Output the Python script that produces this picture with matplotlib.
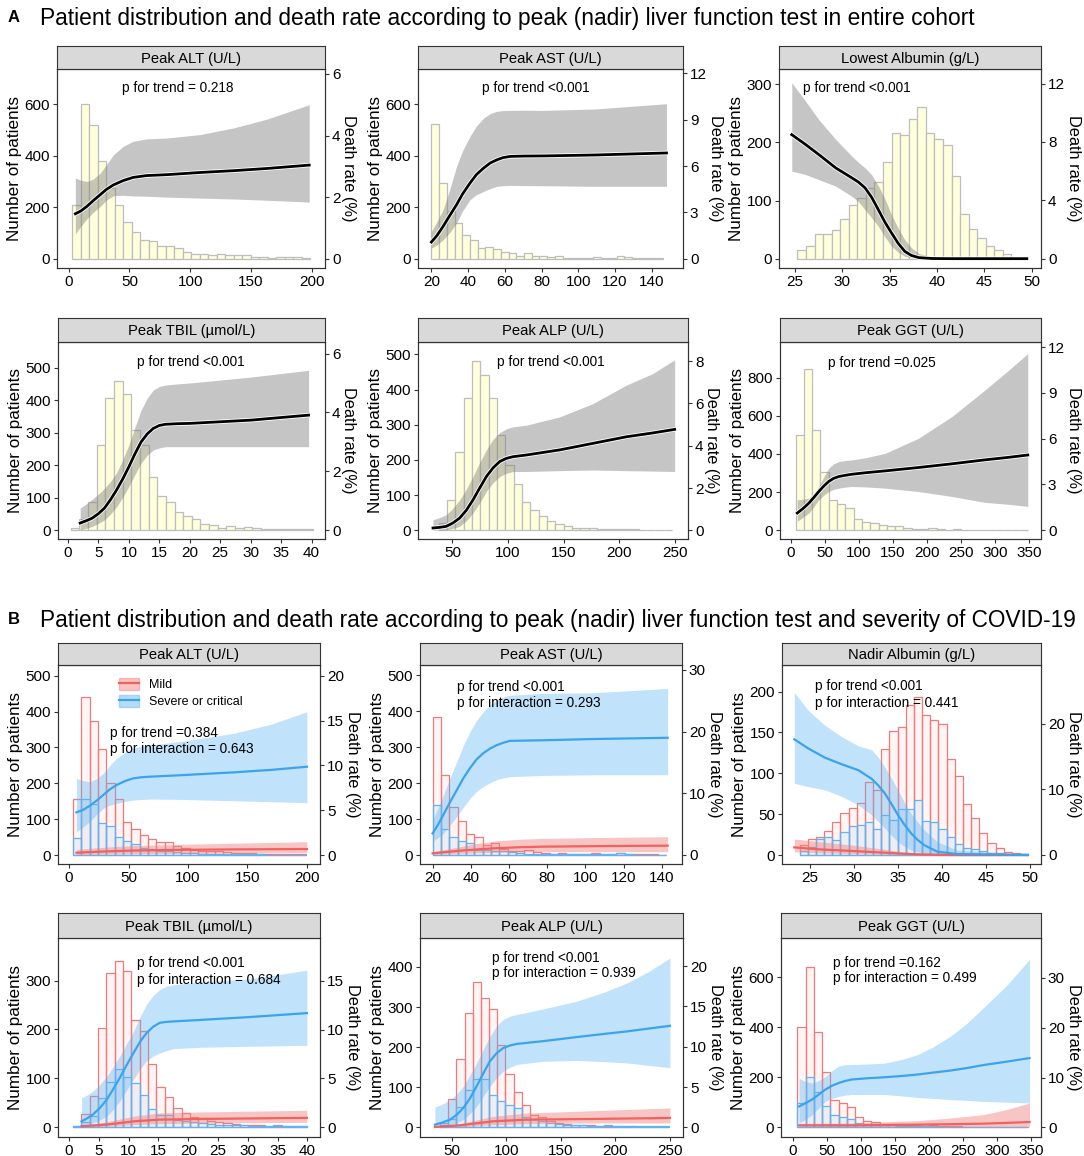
import numpy as np
import matplotlib.pyplot as plt
from matplotlib.patches import Patch
from matplotlib.lines import Line2D
import matplotlib.patheffects as pe

plt.rcParams['font.family'] = ['Liberation Sans', 'DejaVu Sans']

W, H = 1084, 1156
fig = plt.figure(figsize=(W / 100, H / 100), dpi=100)

# ---------------- data: section A (entire cohort) ----------------
# histogram: bin start, bin width, counts ; curve: x, death rate, lower, upper (%)
a_alt_bins = (3.0, 7.0)
a_alt_n = [207, 600, 517, 381, 276, 207, 142, 102, 74, 67, 48, 48, 41, 25, 18, 18, 16, 18, 13, 16, 13, 8, 5, 3, 5, 8, 5, 3]
a_alt_x = [5.5, 10, 15, 20, 26, 31, 37, 45, 53, 64, 81, 108, 136, 163, 198]
a_alt_rate = [1.46, 1.55, 1.70, 1.88, 2.08, 2.25, 2.40, 2.54, 2.64, 2.70, 2.73, 2.80, 2.86, 2.93, 3.04]
a_alt_lo = [0.81, 1.05, 1.30, 1.50, 1.70, 1.90, 2.05, 2.06, 2.04, 2.03, 2.00, 1.97, 1.94, 1.90, 1.84]
a_alt_hi = [2.62, 2.55, 2.51, 2.58, 2.78, 3.05, 3.38, 3.65, 3.81, 3.89, 3.92, 4.03, 4.25, 4.53, 5.00]

a_ast_bins = (20.0, 4.2)
a_ast_n = [523, 294, 184, 138, 93, 71, 41, 44, 38, 26, 22, 12, 22, 9, 9, 5, 9, 3, 3, 3, 3, 6, 3, 3, 9, 6, 3, 1, 1, 1]
a_ast_x = [20, 23, 26.4, 30, 33.7, 37, 41, 44.5, 48.4, 52, 55.7, 59, 63, 70, 81, 109, 148]
a_ast_rate = [1.08, 1.50, 2.10, 2.80, 3.50, 4.20, 4.90, 5.45, 5.87, 6.20, 6.41, 6.55, 6.63, 6.65, 6.66, 6.72, 6.85]
a_ast_lo = [0.69, 0.90, 1.23, 1.70, 2.31, 3.10, 3.82, 4.15, 4.36, 4.55, 4.69, 4.73, 4.75, 4.74, 4.73, 4.69, 4.69]
a_ast_hi = [1.77, 2.40, 3.17, 4.50, 5.98, 7.00, 7.93, 8.60, 9.11, 9.40, 9.55, 9.60, 9.61, 9.62, 9.61, 9.70, 10.04]

a_alb_bins = (25.25, 0.905)
a_alb_n = [15, 22, 42, 42, 49, 69, 92, 104, 121, 132, 167, 216, 213, 240, 261, 216, 206, 195, 142, 77, 51, 36, 22, 15, 8]
a_alb_x = [24.65, 26.1, 27.5, 29.3, 31.0, 31.7, 32.4, 33.1, 33.8, 34.5, 35.2, 35.9, 36.6, 37.3, 38.1, 39.5, 41.6, 49.5]
a_alb_rate = [8.50, 7.83, 7.14, 6.22, 5.54, 5.25, 4.85, 4.20, 3.36, 2.50, 1.76, 1.05, 0.50, 0.22, 0.07, 0.01, 0.0, 0.0]
a_alb_lo = [6.00, 5.77, 5.42, 4.97, 4.28, 3.90, 3.36, 2.80, 2.22, 1.50, 0.85, 0.45, 0.16, 0.06, 0.02, 0.0, 0.0, 0.0]
a_alb_hi = [12.06, 10.80, 9.54, 8.17, 7.03, 6.60, 6.22, 5.75, 5.00, 4.10, 3.00, 2.10, 1.30, 0.75, 0.35, 0.12, 0.03, 0.0]

a_tbil_bins = (0.45, 1.42)
a_tbil_n = [8, 35, 87, 262, 406, 460, 420, 309, 262, 165, 105, 88, 55, 45, 35, 20, 18, 8, 13, 8, 10, 8, 4, 3, 5, 5, 4, 3]
a_tbil_x = [2, 3, 4, 5, 6, 7, 8, 9, 10, 11, 12, 13, 14, 15, 16, 18, 20, 30, 39.5]
a_tbil_rate = [0.25, 0.33, 0.42, 0.57, 0.76, 1.05, 1.38, 1.75, 2.16, 2.60, 3.00, 3.27, 3.46, 3.56, 3.60, 3.62, 3.63, 3.74, 3.91]
a_tbil_lo = [0.02, 0.07, 0.14, 0.24, 0.36, 0.56, 0.81, 1.13, 1.49, 1.90, 2.28, 2.55, 2.73, 2.80, 2.84, 2.84, 2.84, 2.84, 2.84]
a_tbil_hi = [0.76, 0.90, 1.06, 1.23, 1.43, 1.67, 1.96, 2.40, 2.90, 3.50, 4.08, 4.48, 4.76, 4.88, 4.93, 4.97, 5.00, 5.20, 5.43]

a_alp_bins = (37.7, 7.5)
a_alp_n = [20, 87, 222, 375, 482, 440, 375, 270, 185, 133, 82, 57, 40, 28, 18, 12, 8, 8, 6, 5, 5, 5, 4, 3, 2, 2, 2, 2]
a_alp_x = [32.6, 38.6, 44.6, 50.6, 56.6, 62.6, 68.6, 74.6, 80.6, 86.6, 92.6, 98.6, 104.6, 116.6, 146.5, 176.5, 206.5, 230, 250]
a_alp_rate = [0.11, 0.14, 0.19, 0.35, 0.58, 0.95, 1.44, 2.00, 2.54, 2.95, 3.25, 3.40, 3.48, 3.56, 3.80, 4.11, 4.42, 4.60, 4.77]
a_alp_lo = [0.0, 0.01, 0.03, 0.09, 0.19, 0.45, 0.82, 1.30, 1.84, 2.25, 2.54, 2.70, 2.78, 2.78, 2.82, 2.85, 2.82, 2.80, 2.78]
a_alp_hi = [0.50, 0.60, 0.74, 1.05, 1.44, 1.95, 2.54, 3.20, 3.80, 4.30, 4.61, 4.80, 4.89, 4.97, 5.36, 5.99, 6.86, 7.40, 8.06]

a_ggt_bins = (7.3, 12.15)
a_ggt_n = [500, 845, 525, 308, 160, 138, 115, 60, 42, 40, 28, 22, 25, 15, 8, 8, 10, 6, 4, 6, 3, 3, 2, 2, 3, 1, 3, 3]
a_ggt_x = [9.7, 18, 26.7, 34, 41.3, 48.6, 55.9, 63, 70.5, 80, 89.9, 110, 138.5, 187.2, 235.8, 284.4, 320, 347.6]
a_ggt_rate = [1.13, 1.42, 1.78, 2.15, 2.54, 2.90, 3.20, 3.40, 3.52, 3.60, 3.67, 3.77, 3.89, 4.11, 4.35, 4.61, 4.78, 4.93]
a_ggt_lo = [0.59, 0.85, 1.13, 1.55, 2.00, 2.30, 2.54, 2.68, 2.76, 2.83, 2.87, 2.84, 2.76, 2.54, 2.22, 1.83, 1.70, 1.57]
a_ggt_hi = [2.00, 2.03, 2.11, 2.40, 2.87, 3.50, 4.07, 4.35, 4.50, 4.57, 4.61, 4.75, 5.04, 6.02, 7.43, 9.17, 10.50, 11.57]

# ---------------- data: section B (mild vs severe/critical) ----------------
b_alt_bins = (3.4, 7.0)
b_alt_mild_n = [157, 440, 375, 295, 200, 157, 92, 72, 57, 46, 37, 35, 25, 20, 15, 12, 10, 10, 8, 7, 5, 5, 3, 3, 3, 4, 2, 2]
b_alt_sev_n = [47, 157, 142, 90, 80, 50, 40, 32, 20, 18, 12, 10, 8, 6, 5, 4, 4, 4, 3, 3, 3, 2, 2, 1, 1, 1, 1, 1]
b_alt_sev_x = [6.2, 12, 17.4, 23, 28.7, 34, 39.9, 47, 53.9, 61, 68, 96, 138, 170, 200]
b_alt_sev_rate = [4.76, 5.05, 5.50, 6.05, 6.69, 7.30, 7.81, 8.25, 8.55, 8.68, 8.74, 8.92, 9.22, 9.50, 9.85]
b_alt_sev_lo = [2.60, 3.15, 3.72, 4.50, 5.20, 5.55, 5.76, 5.98, 6.13, 6.20, 6.25, 6.20, 6.06, 5.95, 5.84]
b_alt_sev_hi = [8.55, 8.30, 8.18, 8.50, 9.11, 9.95, 10.78, 11.45, 11.90, 12.15, 12.27, 12.71, 13.57, 14.60, 15.99]
b_alt_mild_x = [6.2, 30, 53.9, 96, 138, 200]
b_alt_mild_rate = [0.26, 0.40, 0.50, 0.58, 0.63, 0.67]
b_alt_mild_lo = [0.07, 0.12, 0.16, 0.19, 0.22, 0.26]
b_alt_mild_hi = [0.63, 0.88, 1.05, 1.20, 1.32, 1.49]

b_ast_bins = (20.0, 4.37)
b_ast_mild_n = [383, 222, 133, 95, 58, 50, 27, 32, 18, 12, 10, 15, 7, 6, 3, 5, 3, 3, 3, 5, 3, 3, 5, 2, 2, 2, 2, 1]
b_ast_sev_n = [140, 72, 50, 40, 33, 15, 15, 10, 10, 8, 6, 4, 3, 3, 2, 2, 2, 2, 2, 3, 2, 2, 5, 2, 1, 1, 1, 1]
b_ast_sev_x = [20, 22.8, 25.6, 29, 32.6, 36, 39.6, 43, 46.5, 50, 53.5, 57, 60.5, 78, 104, 143]
b_ast_sev_rate = [3.5, 4.9, 6.5, 8.5, 10.5, 12.4, 14.1, 15.5, 16.5, 17.25, 17.8, 18.2, 18.5, 18.6, 18.8, 19.0]
b_ast_sev_lo = [2.2, 2.8, 3.5, 4.8, 6.2, 7.7, 9.2, 10.3, 11.1, 11.7, 12.2, 12.5, 12.7, 12.9, 13.0, 13.0]
b_ast_sev_hi = [5.7, 7.6, 9.7, 12.4, 15.1, 17.7, 20.0, 21.8, 23.2, 24.3, 25.1, 25.6, 25.9, 26.2, 26.3, 27.0]
b_ast_mild_x = [20, 27, 34.5, 43, 52, 65, 78, 110, 143]
b_ast_mild_rate = [0.27, 0.48, 0.70, 0.90, 1.08, 1.25, 1.35, 1.45, 1.51]
b_ast_mild_lo = [0.10, 0.18, 0.27, 0.36, 0.43, 0.50, 0.54, 0.54, 0.54]
b_ast_mild_hi = [0.54, 0.93, 1.35, 1.85, 2.27, 2.55, 2.70, 2.85, 2.97]

b_alb_bins = (23.8, 0.93)
b_alb_mild_n = [12, 20, 22, 30, 40, 51, 58, 64, 89, 80, 130, 152, 157, 184, 194, 172, 165, 160, 118, 97, 63, 45, 27, 15, 8, 4, 2, 1]
b_alb_sev_n = [5, 10, 20, 22, 18, 28, 35, 37, 40, 32, 49, 43, 56, 56, 67, 42, 41, 32, 22, 14, 8, 7, 5, 3, 2, 1, 1, 1]
b_alb_sev_x = [23.2, 24.8, 26.7, 28.6, 30.5, 32.0, 32.75, 33.5, 34.25, 35.0, 35.75, 36.5, 37.25, 38.0, 39.5, 41.7, 49.8]
b_alb_sev_rate = [17.6, 16.2, 14.8, 13.8, 12.9, 11.6, 10.6, 9.4, 7.8, 6.1, 4.6, 3.3, 2.3, 1.5, 0.5, 0.15, 0.0]
b_alb_sev_lo = [10.9, 10.4, 9.9, 8.9, 7.6, 6.1, 5.1, 4.1, 3.0, 2.0, 1.3, 0.76, 0.45, 0.25, 0.05, 0.0, 0.0]
b_alb_sev_hi = [24.7, 22.0, 19.7, 18.0, 16.6, 16.0, 14.9, 13.4, 11.7, 9.9, 8.0, 6.3, 5.0, 3.8, 2.0, 0.76, 0.1]
b_alb_mild_x = [23.2, 26.0, 29.8, 33.5, 35.5, 37.3, 41.0, 49.8]
b_alb_mild_rate = [1.16, 0.86, 0.61, 0.35, 0.20, 0.10, 0.0, 0.0]
b_alb_mild_lo = [0.50, 0.35, 0.20, 0.10, 0.04, 0.0, 0.0, 0.0]
b_alb_mild_hi = [2.43, 2.03, 1.52, 0.86, 0.50, 0.25, 0.05, 0.0]

b_tbil_bins = (0.67, 1.4)
b_tbil_mild_n = [3, 28, 63, 203, 315, 340, 320, 220, 197, 130, 82, 62, 40, 30, 20, 18, 12, 10, 8, 7, 5, 5, 4, 3, 3, 3, 3, 2]
b_tbil_sev_n = [3, 10, 22, 60, 93, 120, 103, 90, 65, 37, 25, 25, 15, 12, 10, 8, 6, 5, 4, 4, 4, 3, 3, 3, 4, 3, 2, 2]
b_tbil_sev_x = [2.1, 3.0, 4.0, 5.2, 6.3, 7.4, 8.5, 9.6, 10.8, 11.9, 13.0, 14.1, 15.2, 16.3, 17.5, 22, 30.4, 39.9]
b_tbil_sev_rate = [0.6, 0.9, 1.3, 2.0, 2.8, 3.9, 5.05, 6.3, 7.6, 8.75, 9.66, 10.3, 10.7, 10.8, 10.85, 11.0, 11.3, 11.7]
b_tbil_sev_lo = [0.1, 0.25, 0.44, 0.75, 1.13, 1.8, 2.66, 3.75, 4.9, 5.95, 6.8, 7.3, 7.6, 7.85, 8.05, 8.2, 8.3, 8.4]
b_tbil_sev_hi = [3.0, 3.3, 3.7, 4.4, 5.2, 6.2, 7.3, 8.5, 9.8, 11.3, 12.6, 13.5, 14.1, 14.45, 14.6, 14.9, 15.2, 16.1]
b_tbil_mild_x = [2.1, 6.3, 10.8, 15.2, 22, 39.9]
b_tbil_mild_rate = [0.10, 0.27, 0.60, 0.78, 0.85, 0.96]
b_tbil_mild_lo = [0.03, 0.10, 0.27, 0.37, 0.43, 0.50]
b_tbil_mild_hi = [0.20, 0.55, 1.13, 1.47, 1.57, 1.74]

b_alp_bins = (39.3, 7.5)
b_alp_mild_n = [5, 70, 170, 285, 363, 322, 295, 205, 133, 87, 57, 30, 25, 15, 10, 8, 6, 5, 5, 4, 4, 3, 3, 3, 2, 2, 2, 2]
b_alp_sev_n = [11, 20, 50, 93, 120, 120, 80, 65, 55, 48, 25, 22, 15, 12, 8, 6, 5, 5, 4, 4, 5, 4, 3, 3, 3, 3, 4, 4]
b_alp_sev_x = [34.7, 41.6, 48.5, 54.6, 60.7, 66.8, 72.9, 79, 85.1, 91.2, 97.3, 103.4, 109.5, 134, 164.5, 190, 210.3, 230, 250]
b_alp_sev_rate = [0.33, 0.6, 0.95, 1.55, 2.4, 3.6, 5.1, 6.7, 8.2, 9.2, 9.85, 10.15, 10.35, 10.7, 11.2, 11.6, 11.9, 12.25, 12.6]
b_alp_sev_lo = [0.0, 0.1, 0.25, 0.55, 0.95, 1.7, 2.6, 3.85, 5.1, 6.15, 6.96, 7.45, 7.8, 8.2, 8.3, 8.15, 8.0, 7.7, 7.4]
b_alp_sev_hi = [2.5, 2.9, 3.4, 4.15, 5.1, 6.5, 8.0, 9.7, 11.3, 12.6, 13.4, 13.8, 14.0, 14.7, 15.65, 16.8, 17.9, 19.3, 21.0]
b_alp_mild_x = [34.7, 57.6, 88.1, 118.6, 179.7, 250]
b_alp_mild_rate = [0.04, 0.25, 0.75, 0.95, 1.04, 1.16]
b_alp_mild_lo = [0.0, 0.08, 0.33, 0.46, 0.54, 0.54]
b_alp_mild_hi = [0.12, 0.46, 1.37, 1.78, 2.07, 2.40]

b_ggt_bins = (7.2, 12.07)
b_ggt_mild_n = [400, 640, 380, 222, 110, 97, 80, 40, 25, 20, 15, 12, 15, 10, 8, 6, 8, 5, 4, 5, 3, 2, 3, 1, 2, 1, 2, 1]
b_ggt_sev_n = [97, 203, 140, 85, 48, 40, 32, 18, 12, 10, 8, 8, 7, 5, 4, 5, 4, 3, 3, 2, 2, 2, 2, 1, 1, 1, 1, 1]
b_ggt_sev_x = [9.7, 19, 29, 38.6, 48.3, 58, 67.6, 77, 86.9, 110, 135, 160, 183.5, 207, 231.8, 256, 280, 315, 347.7]
b_ggt_sev_rate = [4.2, 4.85, 5.6, 6.6, 7.6, 8.35, 8.9, 9.3, 9.6, 9.85, 10.05, 10.3, 10.6, 11.0, 11.4, 11.9, 12.5, 13.2, 13.9]
b_ggt_sev_lo = [0.87, 1.6, 2.55, 3.9, 5.2, 5.8, 6.2, 6.45, 6.6, 6.6, 6.6, 6.3, 6.0, 5.8, 5.56, 5.4, 5.2, 5.05, 4.9]
b_ggt_sev_hi = [9.8, 9.2, 8.9, 9.4, 10.2, 11.4, 12.3, 12.55, 12.6, 12.7, 12.9, 13.6, 14.6, 16.2, 18.3, 20.9, 24.0, 28.6, 33.7]
b_ggt_mild_x = [9.7, 86.9, 183.5, 230, 280, 315, 347.7]
b_ggt_mild_rate = [0.40, 0.40, 0.54, 0.62, 0.74, 0.90, 1.07]
b_ggt_mild_lo = [0.20, 0.13, 0.07, 0.07, 0.07, 0.07, 0.07]
b_ggt_mild_hi = [0.80, 0.87, 1.34, 1.85, 2.55, 3.60, 4.90]

# colours
YELLOW, YEDGE = '#FFFFDC', '#BDBDBD'
GREY_BAND = '#7F7F7F'
RED, RED_BAND, RED_EDGE = '#F2615E', '#F08080', '#F07A7A'
BLUE, BLUE_BAND, BLUE_EDGE = '#3BA3EC', '#5CB3F5', '#5DB5F5'
FRAME = '#333333'


def fx(x):
    return x / W


def fy(y):
    return 1 - y / H


def draw_panel(box, title, xlim, ylim, ylim2, xticks, yticks, y2ticks, bins, hists, curves, ptext):
    x0, x1, ys, yt, yb = box
    ax = fig.add_axes([fx(x0), fy(yb), (x1 - x0) / W, (yb - yt) / H])
    sax = fig.add_axes([fx(x0), fy(yt), (x1 - x0) / W, (yt - ys) / H])
    sax.set_facecolor('#D9D9D9')
    sax.set_xticks([])
    sax.set_yticks([])
    for s in sax.spines.values():
        s.set_color(FRAME)
        s.set_linewidth(0.8)
    sax.text(0.5, 0.45, title, ha='center', va='center', fontsize=10.6, transform=sax.transAxes)

    start, width = bins
    for counts, face, edge in hists:
        left = start + width * np.arange(len(counts))
        ax.bar(left, counts, width=width, align='edge', color=face, edgecolor=edge, linewidth=0.9)

    ax2 = ax.twinx()
    for cx, rate, lo, hi, lc, bc, ba, halo in curves:
        ax2.fill_between(cx, lo, hi, color=bc, alpha=ba, linewidth=0)
        if halo:
            ax2.plot(cx, rate, color=lc, lw=2.0, solid_joinstyle='round',
                     path_effects=[pe.Stroke(linewidth=3.2, foreground='white'), pe.Normal()])
        else:
            ax2.plot(cx, rate, color=lc, lw=1.6, solid_joinstyle='round')

    ax.set_xlim(xlim)
    ax.set_ylim(ylim)
    ax2.set_ylim(ylim2)
    ax.set_xticks(xticks)
    ax.set_yticks(yticks)
    ax2.set_yticks(y2ticks)
    for a in (ax, ax2):
        for s in a.spines.values():
            s.set_color(FRAME)
            s.set_linewidth(0.8)
        a.tick_params(length=3, width=0.8, color=FRAME, labelsize=11, pad=2)
    ax.set_ylabel('Number of patients', fontsize=12.3, labelpad=2)
    ax2.set_ylabel('Death rate (%)', fontsize=11.8, rotation=270, va='bottom', labelpad=0.5)

    for tx, ty, s in ptext:
        fig.text(fx(tx), fy(ty), s, ha='left', va='center', fontsize=9.8)
    return ax


a_hist = lambda n: [(n, YELLOW, YEDGE)]
a_curve = lambda x, r, lo, hi: [(x, r, lo, hi, 'black', GREY_BAND, 0.45, True)]


def b_hist(mild, sev):
    return [(mild, (0.97, 0.46, 0.43, 0.07), RED_EDGE), (sev, (0.36, 0.71, 0.96, 0.1), BLUE_EDGE)]


def b_curve(m, s):
    return [(m[0], m[1], m[2], m[3], RED, RED_BAND, 0.45, False),
            (s[0], s[1], s[2], s[3], BLUE, BLUE_BAND, 0.38, False)]


# ---------------- section A ----------------
fig.text(fx(8), fy(18), 'A', fontsize=12, fontweight='bold', va='center')
fig.text(fx(40), fy(18), 'Patient distribution and death rate according to peak (nadir) liver function test in entire cohort',
         fontsize=16.4, va='center')

draw_panel((57, 325, 46, 69, 268), 'Peak ALT (U/L)', (-9.6, 211), (-36, 736), (-0.30, 6.16),
           [0, 50, 100, 150, 200], [0, 200, 400, 600], [0, 2, 4, 6], a_alt_bins,
           a_hist(a_alt_n), a_curve(a_alt_x, a_alt_rate, a_alt_lo, a_alt_hi),
           [(122, 88, 'p for trend = 0.218')])
draw_panel((418, 683, 46, 69, 268), 'Peak AST (U/L)', (12.7, 157), (-36, 736), (-0.6, 12.29),
           [20, 40, 60, 80, 100, 120, 140], [0, 200, 400, 600], [0, 3, 6, 9, 12], a_ast_bins,
           a_hist(a_ast_n), a_curve(a_ast_x, a_ast_rate, a_ast_lo, a_ast_hi),
           [(482, 88, 'p for trend <0.001')])
draw_panel((779, 1041, 46, 69, 268), 'Lowest Albumin (g/L)', (23.3, 51.0), (-16, 326), (-0.64, 13.0),
           [25, 30, 35, 40, 45, 50], [0, 100, 200, 300], [0, 4, 8, 12], a_alb_bins,
           a_hist(a_alb_n), a_curve(a_alb_x, a_alb_rate, a_alb_lo, a_alb_hi),
           [(803, 88, 'p for trend <0.001')])
draw_panel((58, 325, 318, 342, 539), 'Peak TBIL (µmol/L)', (-1.64, 42.2), (-26.5, 579), (-0.29, 6.39),
           [0, 5, 10, 15, 20, 25, 30, 35, 40], [0, 100, 200, 300, 400, 500], [0, 2, 4, 6], a_tbil_bins,
           a_hist(a_tbil_n), a_curve(a_tbil_x, a_tbil_rate, a_tbil_lo, a_tbil_hi),
           [(137, 362, 'p for trend <0.001')])
draw_panel((418, 688, 318, 342, 539), 'Peak ALP (U/L)', (19.1, 262), (-24.5, 535), (-0.41, 8.9),
           [50, 100, 150, 200, 250], [0, 100, 200, 300, 400, 500], [0, 2, 4, 6, 8], a_alp_bins,
           a_hist(a_alp_n), a_curve(a_alp_x, a_alp_rate, a_alp_lo, a_alp_hi),
           [(497, 362, 'p for trend <0.001')])
draw_panel((780, 1041, 318, 342, 539), 'Peak GGT (U/L)', (-15.6, 367), (-45, 986), (-0.57, 12.33),
           [0, 50, 100, 150, 200, 250, 300, 350], [0, 200, 400, 600, 800], [0, 3, 6, 9, 12], a_ggt_bins,
           a_hist(a_ggt_n), a_curve(a_ggt_x, a_ggt_rate, a_ggt_lo, a_ggt_hi),
           [(828, 363, 'p for trend =0.025')])

# ---------------- section B ----------------
fig.text(fx(8), fy(620), 'B', fontsize=12, fontweight='bold', va='center')
fig.text(fx(40), fy(620), 'Patient distribution and death rate according to peak (nadir) liver function test and severity of COVID-19',
         fontsize=16.3, va='center')

ax_b1 = draw_panel((58, 320, 643, 665, 864), 'Peak ALT (U/L)', (-9.3, 211), (-25, 530), (-1.0, 21.2),
                   [0, 50, 100, 150, 200], [0, 100, 200, 300, 400, 500], [0, 5, 10, 15, 20], b_alt_bins,
                   b_hist(b_alt_mild_n, b_alt_sev_n),
                   b_curve((b_alt_mild_x, b_alt_mild_rate, b_alt_mild_lo, b_alt_mild_hi),
                           (b_alt_sev_x, b_alt_sev_rate, b_alt_sev_lo, b_alt_sev_hi)),
                   [(110, 733, 'p for trend =0.384'), (110, 749, 'p for interaction = 0.643')])
draw_panel((420, 682, 643, 665, 864), 'Peak AST (U/L)', (13.4, 150.5), (-25, 528), (-1.46, 30.8),
           [20, 40, 60, 80, 100, 120, 140], [0, 100, 200, 300, 400, 500], [0, 10, 20, 30], b_ast_bins,
           b_hist(b_ast_mild_n, b_ast_sev_n),
           b_curve((b_ast_mild_x, b_ast_mild_rate, b_ast_mild_lo, b_ast_mild_hi),
                   (b_ast_sev_x, b_ast_sev_rate, b_ast_sev_lo, b_ast_sev_hi)),
           [(457, 687, 'p for trend <0.001'), (457, 703, 'p for interaction = 0.293')])
draw_panel((782, 1041, 643, 665, 864), 'Nadir Albumin (g/L)', (21.8, 51.3), (-11, 232.6), (-1.37, 28.9),
           [25, 30, 35, 40, 45, 50], [0, 50, 100, 150, 200], [0, 10, 20], b_alb_bins,
           b_hist(b_alb_mild_n, b_alb_sev_n),
           b_curve((b_alb_mild_x, b_alb_mild_rate, b_alb_mild_lo, b_alb_mild_hi),
                   (b_alb_sev_x, b_alb_sev_rate, b_alb_sev_lo, b_alb_sev_hi)),
           [(815, 686, 'p for trend <0.001'), (815, 703, 'p for interaction = 0.441')])
draw_panel((58, 320, 913, 938, 1137), 'Peak TBIL (µmol/L)', (-1.85, 42.1), (-20, 387), (-1.0, 19.4),
           [0, 5, 10, 15, 20, 25, 30, 35, 40], [0, 100, 200, 300], [0, 5, 10, 15], b_tbil_bins,
           b_hist(b_tbil_mild_n, b_tbil_sev_n),
           b_curve((b_tbil_mild_x, b_tbil_mild_rate, b_tbil_mild_lo, b_tbil_mild_hi),
                   (b_tbil_sev_x, b_tbil_sev_rate, b_tbil_sev_lo, b_tbil_sev_hi)),
           [(137, 963, 'p for trend <0.001'), (137, 980, 'p for interaction = 0.684')])
draw_panel((420, 683, 913, 938, 1137), 'Peak ALP (U/L)', (21, 262), (-24, 472), (-1.2, 23.5),
           [50, 100, 150, 200, 250], [0, 100, 200, 300, 400], [0, 5, 10, 15, 20], b_alp_bins,
           b_hist(b_alp_mild_n, b_alp_sev_n),
           b_curve((b_alp_mild_x, b_alp_mild_rate, b_alp_mild_lo, b_alp_mild_hi),
                   (b_alp_sev_x, b_alp_sev_rate, b_alp_sev_lo, b_alp_sev_hi)),
           [(492, 958, 'p for trend <0.001'), (492, 973, 'p for interaction = 0.939')])
draw_panel((781, 1041, 913, 938, 1137), 'Peak GGT (U/L)', (-16.9, 364.5), (-38.7, 757), (-1.94, 38.0),
           [0, 50, 100, 150, 200, 250, 300, 350], [0, 200, 400, 600], [0, 10, 20, 30], b_ggt_bins,
           b_hist(b_ggt_mild_n, b_ggt_sev_n),
           b_curve((b_ggt_mild_x, b_ggt_mild_rate, b_ggt_mild_lo, b_ggt_mild_hi),
                   (b_ggt_sev_x, b_ggt_sev_rate, b_ggt_sev_lo, b_ggt_sev_hi)),
           [(833, 963, 'p for trend =0.162'), (833, 978, 'p for interaction = 0.499')])

# legend in first B panel
mild_h = (Patch(facecolor=RED_BAND, alpha=0.45, edgecolor=RED_EDGE), Line2D([], [], color=RED, lw=1.6))
sev_h = (Patch(facecolor=BLUE_BAND, alpha=0.45, edgecolor=BLUE_EDGE), Line2D([], [], color=BLUE, lw=1.6))
leg = ax_b1.legend([mild_h, sev_h], ['Mild', 'Severe or critical'], loc='upper left',
                   bbox_to_anchor=(0.19, 0.99), frameon=False, fontsize=9,
                   handlelength=1.6, handleheight=1.1, labelspacing=0.3)
leg.set_zorder(5)

fig.savefig('out.png', dpi=100)
